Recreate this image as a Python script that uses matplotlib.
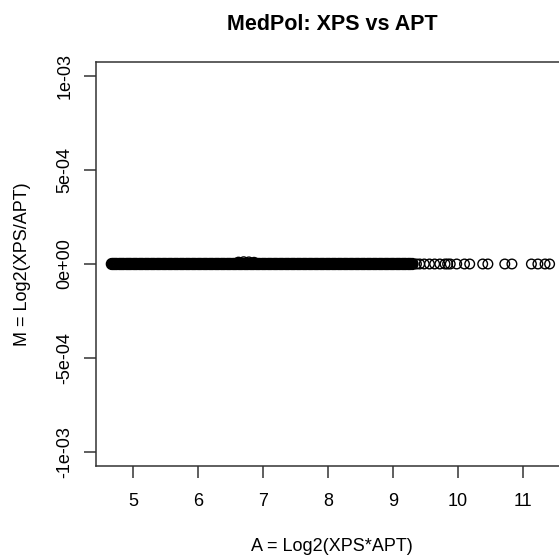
import numpy as np
import matplotlib.pyplot as plt

plt.rcParams['font.family'] = ['Liberation Sans', 'DejaVu Sans']

a_dense = [4.67, 4.69, 4.71, 4.73, 4.75, 4.78, 4.80, 4.82, 4.84, 4.86,
           4.89, 4.91, 4.93, 4.95, 4.97, 5.00, 5.02, 5.04, 5.06, 5.09,
           5.11, 5.13, 5.15, 5.18, 5.20, 5.22, 5.24, 5.27, 5.29, 5.31,
           5.33, 5.36, 5.38, 5.40, 5.42, 5.45, 5.47, 5.49, 5.51, 5.54,
           5.56, 5.58, 5.60, 5.63, 5.65, 5.67, 5.69, 5.72, 5.74, 5.76,
           5.78, 5.81, 5.83, 5.85, 5.87, 5.90, 5.92, 5.94, 5.96, 5.99,
           6.01, 6.03, 6.05, 6.08, 6.10, 6.12, 6.14, 6.17, 6.19, 6.21,
           6.23, 6.26, 6.28, 6.30, 6.32, 6.35, 6.37, 6.39, 6.41, 6.44,
           6.46, 6.48, 6.50, 6.53, 6.55, 6.57, 6.59, 6.62, 6.64, 6.66,
           6.68, 6.71, 6.73, 6.75, 6.77, 6.80, 6.82, 6.84, 6.86, 6.89,
           6.91, 6.93, 6.95, 6.98, 7.00, 7.02, 7.04, 7.07, 7.09, 7.11,
           7.13, 7.16, 7.18, 7.20, 7.22, 7.25, 7.27, 7.29, 7.31, 7.34,
           7.36, 7.38, 7.40, 7.43, 7.45, 7.47, 7.49, 7.52, 7.54, 7.56,
           7.58, 7.61, 7.63, 7.65, 7.67, 7.70, 7.72, 7.74, 7.76, 7.79,
           7.81, 7.83, 7.85, 7.88, 7.90, 7.92, 7.94, 7.97, 7.99, 8.01,
           8.03, 8.06, 8.08, 8.10, 8.12, 8.15, 8.17, 8.19, 8.21, 8.24,
           8.26, 8.28, 8.30, 8.33, 8.35, 8.37, 8.39, 8.42, 8.44, 8.46,
           8.48, 8.51, 8.53, 8.55, 8.57, 8.60, 8.62, 8.64, 8.66, 8.69,
           8.71, 8.73, 8.75, 8.78, 8.80, 8.82, 8.84, 8.87, 8.89, 8.91,
           8.93, 8.96, 8.98, 9.00, 9.02, 9.05, 9.07, 9.09, 9.11, 9.14,
           9.16, 9.18, 9.20, 9.23, 9.25, 9.27, 9.30]
# sparse points in the upper tail
a_tail = [9.36, 9.41, 9.48, 9.56, 9.64, 9.72, 9.80, 9.84, 9.88, 9.98,
          10.10, 10.18, 10.38, 10.46, 10.72, 10.83, 11.13, 11.23, 11.34, 11.41]
# a few points just above zero near A ~ 6.7
a_off = [6.62, 6.70, 6.78, 6.86]
m_off = [1.0e-05, 1.2e-05, 1.1e-05, 0.9e-05]

m_dense = [0.0] * len(a_dense)
m_tail = [0.0] * len(a_tail)

fig = plt.figure(figsize=(5.59, 5.59), dpi=100)
ax = fig.add_axes([0.1717, 0.1664, 0.844, 0.7227])
# overlapping circles in the dense part saturate to solid black
ax.scatter(a_dense, m_dense, s=48, facecolors='none', edgecolors='black', linewidths=1.9)
ax.scatter(a_off, m_off, s=48, facecolors='none', edgecolors='black', linewidths=1.0)
ax.scatter(a_tail, m_tail, s=48, facecolors='none', edgecolors='black', linewidths=1.0)

ax.set_xlim(4.426, 11.69)
ax.set_ylim(-1.075e-03, 1.075e-03)
ax.set_xticks([5, 6, 7, 8, 9, 10, 11])
ax.set_xticklabels(['5', '6', '7', '8', '9', '10', '11'])
yt = [-1e-03, -5e-04, 0, 5e-04, 1e-03]
ax.set_yticks(yt)
ax.set_yticklabels(['-1e-03', '-5e-04', '0e+00', '5e-04', '1e-03'],
                   rotation=90, va='center')
ax.tick_params(length=8.3, width=1.1, color='#333333', labelsize=13)
ax.tick_params(axis='x', pad=11.5)
ax.tick_params(axis='y', pad=8)
for s in ax.spines.values():
    s.set_color('#333333')
    s.set_linewidth(1.1)

ax.set_title('MedPol: XPS vs APT', fontsize=15.5, fontweight='bold', pad=23)
ax.set_xlabel('A = Log2(XPS*APT)', fontsize=13, labelpad=20)
ax.set_ylabel('M = Log2(XPS/APT)', fontsize=13, labelpad=18)

fig.savefig('out.png', dpi=100)
